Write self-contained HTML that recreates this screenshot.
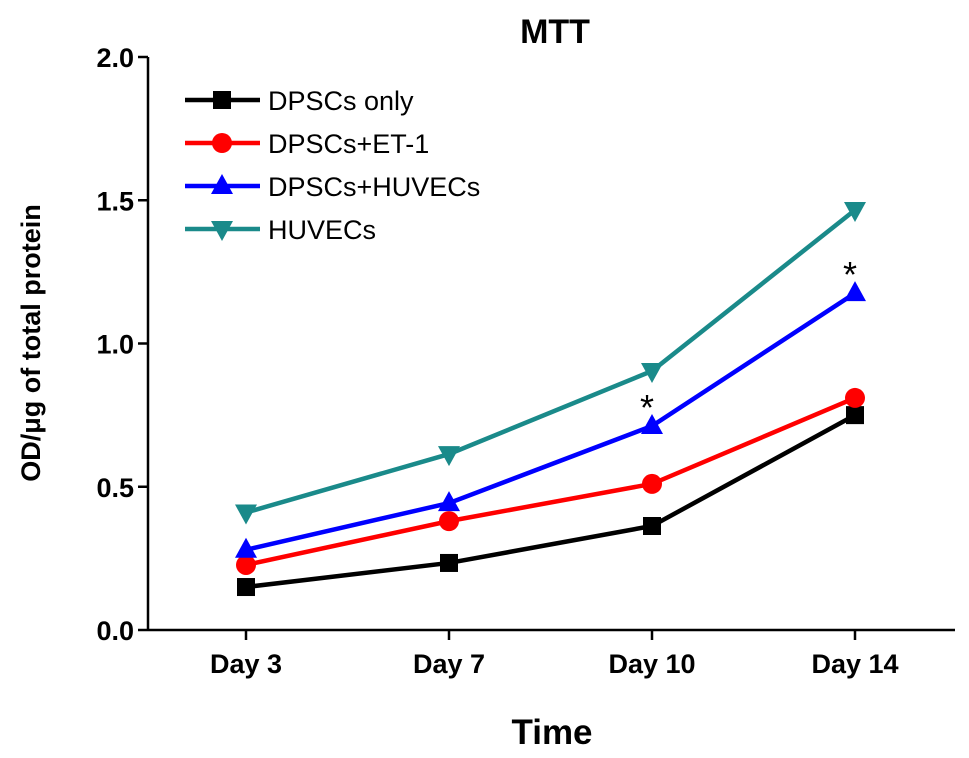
<!DOCTYPE html>
<html><head><meta charset="utf-8"><style>
body{margin:0;background:#fff;}
svg{display:block;font-family:"Liberation Sans",Arial,sans-serif;}
</style></head><body>
<svg id="chart" width="969" height="758">
<text x="555" y="43" text-anchor="middle" font-size="34" font-weight="bold">MTT</text>
<text transform="translate(40,343) rotate(-90)" text-anchor="middle" font-size="27" font-weight="bold">OD/μg of total protein</text>
<text x="552" y="744" text-anchor="middle" font-size="35" font-weight="bold">Time</text>
<g id="axes"></g><g id="series"></g><g id="legend"></g>
</svg>
<script>
const categories=["Day 3","Day 7","Day 10","Day 14"];
const dpscsOnly=[0.15,0.234,0.363,0.75];
const dpscsEt1=[0.227,0.38,0.51,0.81];
const dpscsHuvecs=[0.28,0.443,0.712,1.176];
const huvecs=[0.41,0.614,0.904,1.466];
const yTicks=[0.0,0.5,1.0,1.5,2.0];
const seriesNames=["DPSCs only","DPSCs+ET-1","DPSCs+HUVECs","HUVECs"];
const asterisks=[[2,"DPSCs+HUVECs"],[3,"DPSCs+HUVECs"]];

const NS="http://www.w3.org/2000/svg";
const x0=148,x1=955,yTop=57,yBot=630;
const xPos=i=>246+i*203;
const yPos=v=>yBot-(v/2.0)*(yBot-yTop);
function mk(tag,attrs,parent){const e=document.createElementNS(NS,tag);for(const k in attrs)e.setAttribute(k,attrs[k]);parent.appendChild(e);return e;}
const axes=document.getElementById('axes');
let a=mk('line',{x1:x0,y1:yTop,x2:x0,y2:yBot,stroke:'#000','stroke-width':2.5},axes);


a=mk('line',{x1:x0,y1:yBot,x2:x1,y2:yBot,stroke:'#000','stroke-width':2.5},axes);


yTicks.forEach(t=>{
  const y=yPos(t);
  mk('line',{x1:x0-10,y1:y,x2:x0,y2:y,stroke:'#000','stroke-width':2.5},axes);
  const tx=mk('text',{x:x0-14,y:y+10,'text-anchor':'end','font-size':27,'font-weight':'bold'},axes);
  tx.textContent=t.toFixed(1);
  
  
});
categories.forEach((c,i)=>{
  const x=xPos(i);
  mk('line',{x1:x,y1:yBot,x2:x,y2:yBot+10,stroke:'#000','stroke-width':2.5},axes);
  const tx=mk('text',{x:x,y:yBot+43,'text-anchor':'middle','font-size':27,'font-weight':'bold'},axes);
  tx.textContent=c;
  
  
});
const colors=['#000000','#ff0000','#0000ff','#1a8a8a'];
const shapes=['square','circle','up','down'];
const data=[dpscsOnly,dpscsEt1,dpscsHuvecs,huvecs];
function marker(g,shape,x,y,c){
  if(shape==='square')return mk('rect',{x:x-9,y:y-9,width:18,height:18,fill:c},g);
  if(shape==='circle')return mk('circle',{cx:x,cy:y,r:10,fill:c},g);
  if(shape==='up')return mk('polygon',{points:`${x},${y-12} ${x+11},${y+8} ${x-11},${y+8}`,fill:c},g);
  return mk('polygon',{points:`${x-11},${y-8} ${x+11},${y-8} ${x},${y+12}`,fill:c},g);
}
const sg=document.getElementById('series');
data.forEach((d,s)=>{
  const g=mk('g',{},sg);
  
  
  mk('polyline',{points:d.map((v,i)=>xPos(i)+','+yPos(v)).join(' '),fill:'none',stroke:colors[s],'stroke-width':4.5},g);
  d.forEach((v,i)=>{const m=marker(g,shapes[s],xPos(i),yPos(v),colors[s]);
    
    });
});
asterisks.forEach(([i,name])=>{
  const v=data[seriesNames.indexOf(name)][i];
  const t=mk('text',{x:xPos(i)-5,y:yPos(v)-6,'text-anchor':'middle','font-size':36},sg);
  t.textContent='*';
  
  
});
const lg=document.getElementById('legend');
seriesNames.forEach((n,s)=>{
  const y=100+s*43;
  const g=mk('g',{},lg);
  
  
  mk('line',{x1:185,y1:y,x2:260,y2:y,stroke:colors[s],'stroke-width':4.5},g);
  marker(g,shapes[s],222,y,colors[s]);
  const t=mk('text',{x:268,y:y+10,'font-size':27},g);
  t.textContent=n;
});
</script>
</body></html>
